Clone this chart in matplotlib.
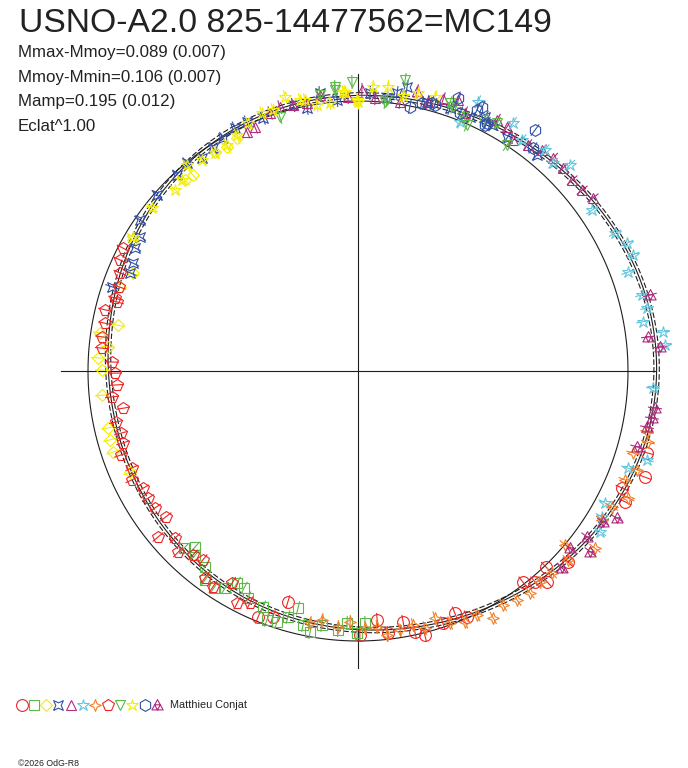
import numpy as np
import matplotlib.pyplot as plt
from matplotlib.path import Path
from matplotlib.collections import LineCollection

plt.rcParams['font.family'] = ['Liberation Sans', 'DejaVu Sans']

TITLE = "USNO-A2.0 825-14477562=MC149"
STATS = ["Mmax-Mmoy=0.089 (0.007)", "Mmoy-Mmin=0.106 (0.007)",
         "Mamp=0.195 (0.012)", "Eclat^1.00"]
OBSERVER = "Matthieu Conjat"
CREDIT = "\u00a92026 OdG-R8"

# each measure: phase angle (deg, clockwise from top) and polar radius
circle_ang = [105.8, 110.3, 113.9, 116.1, 132.3, 136.2, 138.1, 140.0, 142.0, 156.1, 158.2,
              161.4, 165.8, 167.7, 169.8, 173.5, 175.6, 179.6, 196.9, 199.1, 202.1]
circle_rad = [300.4, 306.0, 288.8, 297.4, 283.9, 271.6, 283.3, 275.4, 267.9, 269.0, 260.7,
              266.0, 272.0, 267.0, 255.0, 263.7, 249.7, 264.0, 241.4, 260.3, 265.5]

square_ang = [224.5, 222.8, 221.5, 218.0, 216.2, 213.6, 211.5, 209.7, 207.7, 205.9, 201.9,
              200.1, 197.9, 195.9, 194.2, 192.2, 190.4, 188.1, 184.4, 182.5, 180.2, 178.4]
square_rad = [248.2, 239.9, 245.8, 248.6, 259.0, 260.4, 254.5, 244.1, 245.1, 252.2, 254.4,
              265.1, 263.7, 255.8, 244.5, 259.9, 265.4, 256.5, 259.8, 252.2, 262.0, 252.1]

diamond_ang = [329.7, 332.6, 326.9, 319.9, 317.8, 300.2, 293.5, 289.4, 280.8, 278.4, 275.5,
               272.9, 270.2, 264.6, 257.2, 254.5, 251.7, 246.1]
diamond_rad = [259.5, 262.5, 261.6, 256.2, 257.7, 260.4, 245.4, 252.4, 244.4, 260.8, 251.1,
               260.3, 256.0, 257.1, 256.4, 257.4, 258.0, 249.4]

xsquare_ang = [288.9, 293.3, 295.6, 298.9, 301.6, 304.7, 311.2, 317.3, 320.6, 323.8, 327.0,
               329.9, 333.2, 336.0, 339.4, 346.3, 349.0, 352.2, 355.6, 2.5, 6.1, 8.0, 9.8,
               14.4, 19.3, 23.8, 26.6, 28.6, 32.6, 39.6]
xsquare_rad = [260.0, 248.2, 249.6, 254.7, 255.9, 265.2, 267.2, 266.8, 269.3, 264.0, 266.0,
               269.3, 272.4, 272.6, 270.2, 273.8, 267.9, 280.6, 271.8, 278.3, 274.5, 280.7, 288.2,
               277.7, 278.6, 277.6, 284.0, 280.1, 276.6, 280.5]

triangle_ang = [335.1, 337.1, 341.2, 343.5, 346.3, 349.2, 352.2, 357.9, 0.8, 3.6, 8.9, 11.9,
                14.6, 17.4, 20.3, 22.5, 29.0, 31.4, 33.9, 36.9, 39.8, 42.5, 45.3, 48.3, 51.1, 53.6]
triangle_rad = [263.5, 264.9, 272.6, 275.3, 273.8, 272.8, 278.6, 274.2, 281.0, 273.5, 272.3, 286.1,
                278.0, 285.0, 288.9, 279.3, 286.9, 285.9, 278.2, 282.8, 287.6, 288.8, 288.5, 286.8,
                288.0, 291.8]

cstar_ang = [22.3, 24.0, 32.0, 35.4, 40.2, 43.2, 45.8, 55.5, 61.8, 64.6, 67.1, 69.9, 75.0,
             77.7, 80.2, 82.7, 85.2, 93.3, 107.1, 109.8, 118.1, 120.9, 123.6]
cstar_rad = [269.1, 294.6, 292.4, 283.3, 289.5, 285.1, 295.6, 284.0, 291.7, 297.9, 298.5, 287.6,
             294.0, 295.8, 289.2, 307.5, 308.1, 295.5, 302.4, 286.9, 280.0, 284.3, 290.7]

ostar_ang = [101.9, 103.8, 106.6, 109.5, 112.2, 115.2, 118.2, 121.4, 126.8, 130.0, 132.0, 136.2,
             139.2, 142.2, 145.2, 148.2, 151.3, 154.0, 156.9, 159.9, 162.7, 165.4, 167.8, 170.8,
             173.7, 175.8, 178.4, 181.8, 184.5, 188.2, 190.8]
ostar_rad = [295.4, 298.6, 287.0, 296.0, 288.4, 298.4, 288.1, 285.9, 295.8, 270.4, 282.5, 280.0,
             278.6, 280.8, 278.8, 275.3, 281.5, 271.5, 272.9, 268.3, 258.7, 265.6, 259.9, 262.4,
             265.6, 256.7, 257.1, 251.1, 256.8, 251.6, 256.5]

pentagon_ang = [297.6, 295.0, 292.4, 289.4, 286.7, 286.0, 283.6, 280.7, 277.6, 275.1, 272.1,
                269.5, 266.7, 264.0, 261.0, 258.1, 255.3, 253.0, 250.5, 246.8, 244.3, 241.4,
                238.8, 236.0, 232.8, 230.3, 227.6, 224.8, 221.9, 219.4, 216.5, 213.9, 210.7,
                207.5, 205.0]
pentagon_rad = [265.2, 262.6, 257.4, 253.3, 253.7, 250.7, 260.3, 257.5, 258.2, 257.0, 246.2,
                243.0, 241.4, 247.4, 237.9, 247.3, 245.0, 245.8, 251.4, 245.9, 250.9, 244.8,
                245.4, 244.9, 241.2, 259.9, 247.7, 255.3, 247.1, 244.4, 257.4, 260.2, 246.6,
                261.7, 255.9]

vtri_ang = [342.9, 352.2, 355.3, 355.4, 358.8, 5.7, 6.1, 9.2, 18.9, 19.8, 22.5, 23.9, 26.5,
            29.3, 33.4]
vtri_rad = [265.7, 278.6, 281.9, 284.9, 289.1, 270.4, 272.5, 294.8, 283.4, 280.6, 274.8, 269.1,
            280.4, 284.3, 270.7]

ystar_ang = [300.8, 308.4, 314.7, 317.3, 320.3, 323.5, 326.7, 329.9, 332.9, 336.1, 339.6, 342.0,
             345.1, 347.9, 348.9, 351.2, 354.0, 356.9, 357.3, 359.8, 0.0, 3.0, 6.0, 9.3, 12.2, 15.7]
ystar_rad = [261.9, 262.7, 257.4, 259.7, 267.7, 262.4, 260.7, 261.2, 265.2, 271.3, 275.3, 274.5,
             283.6, 277.1, 276.1, 269.1, 269.5, 279.4, 279.3, 271.0, 269.0, 284.4, 285.6, 278.7,
             284.4, 284.6]

hexagon_ang = [11.1, 13.4, 15.4, 16.1, 20.1, 21.6, 24.5, 25.2, 27.3, 27.5, 36.3, 38.1]
hexagon_rad = [269.1, 275.5, 278.0, 276.9, 290.7, 277.4, 286.8, 291.7, 276.8, 279.5, 299.0, 283.5]

triad_ang = [75.4, 83.3, 85.5, 97.1, 99.1, 101.0, 105.2, 119.6, 121.6, 125.9, 127.9, 129.9, 134.0]
triad_rad = [301.7, 292.0, 303.0, 299.3, 297.7, 294.4, 289.2, 297.8, 287.8, 282.8, 294.3, 276.2,
             283.6]

# Fourier fit of the radius against phase angle (harmonics 1..3)
fit_mean = 270.6
fit_cos = [8.3, -3.5, 0.2]
fit_sin = [20.9, -2.25, -3.6]
fit_err = 2.7
ref_radius = 270
axis_half = 297
bar_half = 7

# custom marker shapes
xsq_path = Path([(-1, -1), (0, -0.55), (1, -1), (0.55, 0), (1, 1), (0, 0.55), (-1, 1),
                 (-0.55, 0), (-1, -1)])
ostar_path = Path([(0, 1), (0.28, 0.28), (1, 0), (0.28, -0.28), (0, -1), (-0.28, -0.28),
                   (-1, 0), (-0.28, 0.28), (0, 1)])
triad_path = Path([(0, 1), (-0.95, -0.75), (0.95, -0.75), (0, 1),
                   (0, -0.75), (0.47, 0.12), (-0.47, 0.12), (0, -0.75)],
                  [Path.MOVETO, Path.LINETO, Path.LINETO, Path.CLOSEPOLY,
                   Path.MOVETO, Path.LINETO, Path.LINETO, Path.CLOSEPOLY])

RED, GREEN, YELLOW, BLUE = '#ee2424', '#5cb848', '#f2ee00', '#3450a8'
PURPLE, CYAN, ORANGE = '#b02c7c', '#62c6de', '#f28028'

series = [
    (circle_ang, circle_rad, 'o', RED, 8.5),
    (square_ang, square_rad, 's', GREEN, 6.5),
    (diamond_ang, diamond_rad, 'D', YELLOW, 6.0),
    (xsquare_ang, xsquare_rad, xsq_path, BLUE, 7.0),
    (triangle_ang, triangle_rad, '^', PURPLE, 7.5),
    (cstar_ang, cstar_rad, '*', CYAN, 9.0),
    (ostar_ang, ostar_rad, ostar_path, ORANGE, 8.5),
    (pentagon_ang, pentagon_rad, 'p', RED, 8.5),
    (vtri_ang, vtri_rad, 'v', GREEN, 7.5),
    (ystar_ang, ystar_rad, '*', YELLOW, 9.0),
    (hexagon_ang, hexagon_rad, 'h', BLUE, 8.5),
    (triad_ang, triad_rad, triad_path, PURPLE, 8.5),
]

CX, CY = 358, 371
INK = '#1e1e1e'


def to_xy(ang, rad):
    t = np.radians(np.asarray(ang, dtype=float))
    r = np.asarray(rad, dtype=float)
    return CX + r * np.sin(t), CY - r * np.cos(t)


fig = plt.figure(figsize=(6.88, 7.68), dpi=100)
ax = fig.add_axes([0, 0, 1, 1])
ax.set_xlim(0, 688)
ax.set_ylim(768, 0)
ax.axis('off')

# axes cross and reference circle
ax.plot([CX - axis_half, CX + axis_half], [CY, CY], color=INK, lw=0.8)
ax.plot([CX, CX], [CY - axis_half, CY + axis_half], color=INK, lw=0.8)
th = np.linspace(0, 360, 721)
cx, cy = to_xy(th, np.full_like(th, ref_radius))
ax.plot(cx, cy, color=INK, lw=0.8)

# fitted curve with its uncertainty band
fit_r = np.full_like(th, fit_mean)
for k, (a, b) in enumerate(zip(fit_cos, fit_sin), start=1):
    fit_r += a * np.cos(np.radians(k * th)) + b * np.sin(np.radians(k * th))
fx, fy = to_xy(th, fit_r)
ax.plot(fx, fy, color=INK, lw=0.8)
for s in (-1, 1):
    fx, fy = to_xy(th, fit_r + s * fit_err)
    ax.plot(fx, fy, color=INK, lw=0.8, linestyle=(0, (5, 2)))

# measures with radial error bars
for ang, rad, mk, col, ms in series:
    r = np.asarray(rad, dtype=float)
    x0, y0 = to_xy(ang, r - bar_half)
    x1, y1 = to_xy(ang, r + bar_half)
    segs = [[(a, b), (c, d)] for a, b, c, d in zip(x0, y0, x1, y1)]
    ax.add_collection(LineCollection(segs, colors=col, linewidths=0.8))
    x, y = to_xy(ang, r)
    ax.plot(x, y, linestyle='none', marker=mk, markersize=ms, markerfacecolor='none',
            markeredgecolor=col, markeredgewidth=0.8)

# texts
ax.text(19, 32, TITLE, fontsize=24.2, color='#222222', va='baseline', ha='left')
for i, line in enumerate(STATS):
    ax.text(18, 57 + i * 24.7, line, fontsize=12.2, color='#222222', va='baseline', ha='left')

# observer legend row
for i, (ang, rad, mk, col, ms) in enumerate(series):
    ax.plot(21.5 + i * 12.3, 704.5, linestyle='none', marker=mk, markersize=ms,
            markerfacecolor='none', markeredgecolor=col, markeredgewidth=0.8)
ax.text(170, 708.5, OBSERVER, fontsize=7.8, color='#222222', va='baseline', ha='left')
ax.text(18, 766, CREDIT, fontsize=6.3, color='#222222', va='baseline', ha='left')

fig.savefig('out.png', dpi=100)
